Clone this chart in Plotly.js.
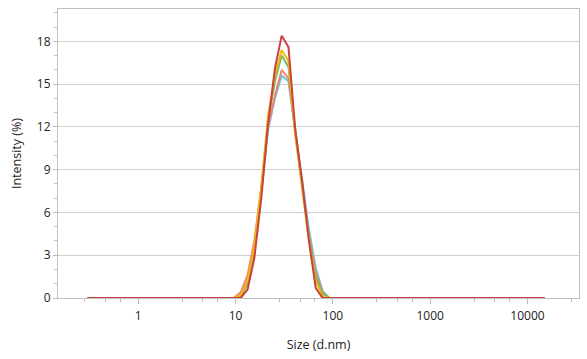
<!DOCTYPE html>
<html>
<head>
<meta charset="utf-8">
<script src="https://cdn.plot.ly/plotly-3.0.1.min.js"></script>
<style>
html,body{margin:0;padding:0;background:#fff;}
#chart{width:587px;height:359px;}
</style>
</head>
<body>
<div id="chart"></div>
<script>
// Size classes (d.nm)
const sizes = [0.3, 8.19, 9.62, 11.3, 13.3, 15.6, 18.4, 21.6, 25.4, 29.8, 35.0, 41.1, 48.3, 56.8, 66.7, 78.4, 92.1, 15000];

// Intensity (%) per record
const seriesBlue   = [0, 0, 0, 0.2, 1.2, 3.5, 7.4, 11.8, 14.0, 15.6, 15.2, 11.8, 8.4, 4.8, 2.1, 0.5, 0, 0];
const seriesSalmon = [0, 0, 0, 0.4, 1.6, 4.0, 7.8, 12.0, 14.2, 16.0, 15.4, 11.6, 8.0, 4.4, 1.8, 0.4, 0, 0];
const seriesGreen  = [0, 0, 0, 0.1, 1.0, 3.4, 7.6, 12.5, 15.2, 17.0, 16.2, 11.6, 8.0, 4.2, 1.5, 0.3, 0, 0];
const seriesYellow = [0, 0, 0, 0.2, 1.2, 3.6, 7.8, 12.8, 15.6, 17.4, 16.6, 11.4, 7.8, 4.0, 1.2, 0.1, 0, 0];
const seriesRed    = [0, 0, 0, 0, 0.6, 2.8, 7.0, 12.2, 16.1, 18.4, 17.6, 11.8, 8.2, 4.0, 0.7, 0, 0, 0];

const xTickVals = [1, 10, 100, 1000, 10000];
const xTickText = ['1', '10', '100', '1000', '10000'];
const xMinorVals = [0.283, 0.462, 0.653, 2.83, 4.62, 6.53, 28.3, 46.2, 65.3, 283, 462, 653, 2830, 4620, 6530, 28300];

const series = [
  {y: seriesBlue,   color: '#6cc3dc'},
  {y: seriesSalmon, color: '#ee8670'},
  {y: seriesGreen,  color: '#72b96a'},
  {y: seriesYellow, color: '#f3b60c'},
  {y: seriesRed,    color: '#c8423f'}
];

const traces = series.map(s => ({
  x: sizes, y: s.y, type: 'scatter', mode: 'lines',
  line: {color: s.color, width: 2},
  hoverinfo: 'skip', showlegend: false
}));

const font = {family: '"Open Sans", "Noto Sans", sans-serif', size: 12, color: '#222'};

const layout = {
  width: 587, height: 359,
  margin: {l: 58, r: 8, t: 9, b: 61},
  paper_bgcolor: '#fff', plot_bgcolor: '#fff',
  font: font,
  showlegend: false,
  xaxis: {
    type: 'log',
    range: [Math.log10(0.15), Math.log10(33800)],
    tickmode: 'array', tickvals: xTickVals, ticktext: xTickText,
    ticks: 'outside', ticklen: 5, tickcolor: '#bfbfbf', tickwidth: 1,
    ticklabelstandoff: 2,
    showline: true, linecolor: '#bfbfbf', linewidth: 1, mirror: true,
    showgrid: false, zeroline: false,
    minor: {tickmode: 'array', tickvals: xMinorVals, ticks: 'outside', ticklen: 3, tickcolor: '#bfbfbf', showgrid: false},
    tickfont: {size: 12, color: '#222'},
    title: {text: 'Size (d.nm)', font: {size: 12.5, color: '#222'}, standoff: 16}
  },
  yaxis: {
    range: [0, 20.27],
    tickmode: 'linear', tick0: 0, dtick: 3,
    ticks: 'outside', ticklen: 4, tickcolor: '#bfbfbf', tickwidth: 1,
    showline: true, linecolor: '#bfbfbf', linewidth: 1, mirror: true,
    showgrid: true, gridcolor: '#cfcfcf', gridwidth: 1, zeroline: false,
    minor: {dtick: 1, tick0: 0, ticks: 'outside', ticklen: 3, tickcolor: '#bfbfbf', showgrid: false},
    tickfont: {size: 12, color: '#222'},
    title: {text: 'Intensity (%)', font: {size: 12.5, color: '#222'}, standoff: 12}
  }
};

Plotly.newPlot('chart', traces, layout, {staticPlot: true, displayModeBar: false});
</script>
</body>
</html>
